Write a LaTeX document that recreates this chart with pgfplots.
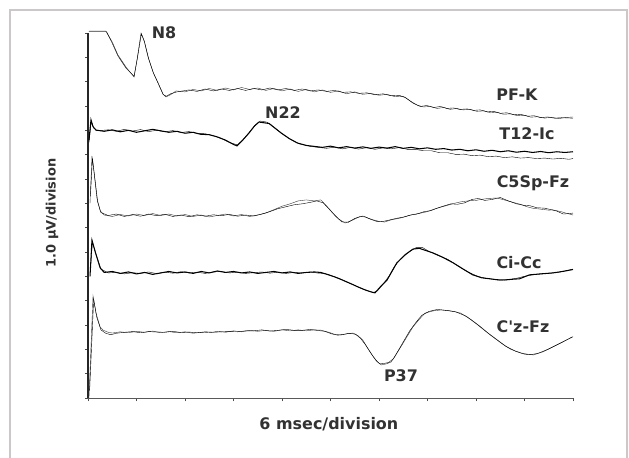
\documentclass[border=0pt]{standalone}
\usepackage{pgfplots}
\pgfplotsset{compat=1.18}
\usepackage{fontspec}
\setmainfont{DejaVu Sans}
\definecolor{trace}{RGB}{55,55,55}
\definecolor{txt}{RGB}{50,50,50}
\definecolor{frame}{RGB}{205,200,200}
\begin{document}
\begin{tikzpicture}
\begin{axis}[
    at={(0,0)}, anchor=south west,
    scale only axis, width=485bp, height=365bp,
    xmin=0, xmax=60, ymin=0, ymax=15,
    axis lines*=left,
    xtick={0,6,...,60}, ytick={0,1,...,15},
    xticklabels={}, yticklabels={},
    tick align=outside, major tick length=3bp,
    tick style={black!70, line width=0.6pt},
    x axis line style={black!65, line width=0.9pt},
    y axis line style={black!85, line width=2.2pt},
    clip=false,
    cycle list={{trace, solid, line width=1.05pt, mark=none}},
]
% PF-K
\addplot coordinates {(0.1,15.08) (2.2,15.08) (3.0,14.63) (3.7,14.10) (4.7,13.60) (5.7,13.19) (6.06,13.89) (6.56,15.00) (6.93,14.71) (7.42,14.02) (8.04,13.40) (8.66,12.95) (9.28,12.49) (9.65,12.37) (10.14,12.45) (10.9,12.62) (12,12.58) (13,12.68) (14,12.62) (15,12.72) (16,12.64) (17,12.74) (18,12.66) (19,12.76) (20,12.68) (21,12.74) (22,12.64) (23,12.72) (24,12.62) (25,12.70) (26,12.60) (27,12.68) (28,12.58) (29,12.66) (30,12.56) (31,12.62) (32,12.50) (33,12.58) (34,12.48) (35,12.52) (36,12.44) (37,12.48) (38,12.38) (39,12.40) (39.8,12.22) (40.7,12.04) (41.5,11.96) (42.3,11.98) (43.2,11.90) (44,11.94) (44.8,11.86) (45.6,11.90) (46.4,11.84) (47.3,11.86) (48.1,11.78) (49,11.80) (49.8,11.72) (50.6,11.74) (51.4,11.66) (52.3,11.68) (53.1,11.60) (54,11.62) (54.8,11.54) (55.6,11.56) (56.5,11.50) (57.3,11.54) (58.2,11.48) (59,11.52) (60,11.55)};
\addplot coordinates {(0.1,15.05) (2.3,15.05) (3.0,14.58) (3.7,14.06) (4.7,13.56) (5.7,13.22) (6.1,13.95) (6.6,14.96) (7.0,14.62) (7.5,13.95) (8.1,13.35) (8.7,12.92) (9.3,12.47) (9.7,12.40) (10.2,12.50) (11.0,12.58) (12.5,12.66) (13.5,12.60) (14.5,12.70) (15.5,12.62) (16.5,12.70) (17.5,12.64) (18.5,12.72) (19.5,12.64) (20.5,12.72) (21.5,12.66) (22.5,12.74) (23.5,12.66) (24.5,12.72) (25.5,12.64) (26.5,12.70) (27.5,12.62) (28.5,12.66) (29.5,12.60) (30.5,12.64) (31.5,12.56) (32.5,12.58) (33.5,12.52) (34.5,12.54) (35.5,12.46) (36.5,12.50) (37.5,12.42) (38.5,12.44) (39.3,12.34) (40.2,12.12) (41.1,11.98) (41.9,12.02) (42.8,11.94) (43.6,11.98) (44.4,11.90) (45.2,11.92) (46.0,11.86) (46.9,11.88) (47.7,11.82) (48.5,11.84) (49.4,11.76) (50.2,11.78) (51.0,11.70) (51.8,11.72) (52.7,11.64) (53.5,11.66) (54.4,11.58) (55.2,11.60) (56.0,11.52) (56.9,11.55) (57.7,11.50) (58.6,11.52) (60,11.50)};
% T12-Ic
\addplot coordinates {(0.12,10.6) (0.37,11.43) (0.62,11.15) (0.99,11.01) (2,10.96) (3,11.02) (4,10.94) (5,11.00) (6,10.92) (7,10.98) (8,11.04) (9,10.98) (10,10.92) (11,10.96) (12,10.88) (13,10.92) (13.9,10.84) (15,10.82) (16,10.73) (17,10.60) (18,10.42) (18.43,10.36) (19.2,10.62) (19.92,10.89) (20.6,11.18) (21.15,11.34) (22.0,11.30) (22.4,11.28) (23.1,11.10) (23.9,10.89) (24.9,10.66) (25.9,10.48) (27,10.38) (28,10.34) (29,10.30) (30,10.35) (31,10.28) (32,10.33) (33,10.27) (34,10.32) (35,10.26) (36,10.31) (37,10.27) (38,10.33) (39,10.26) (40,10.30) (41,10.24) (42,10.28) (43,10.22) (44,10.25) (45,10.19) (46,10.22) (47,10.16) (48,10.20) (49,10.14) (50,10.18) (51,10.12) (52,10.16) (53,10.10) (54,10.14) (55,10.09) (56,10.13) (57,10.08) (58,10.12) (59,10.09) (60,10.12)};
\addplot coordinates {(0.12,10.5) (0.4,11.38) (0.7,11.10) (1.1,10.98) (2.5,11.02) (3.5,10.96) (4.5,11.04) (5.5,10.97) (6.5,11.03) (7.5,10.95) (8.5,11.00) (9.5,10.94) (10.5,10.99) (11.5,10.91) (12.5,10.95) (13.5,10.87) (14.5,10.86) (15.5,10.78) (16.5,10.66) (17.5,10.50) (18.5,10.40) (19.3,10.66) (20.0,10.94) (20.7,11.22) (21.3,11.38) (22.1,11.34) (22.6,11.24) (23.3,11.04) (24.1,10.84) (25.1,10.62) (26.1,10.45) (27.5,10.34) (28.5,10.30) (29.5,10.26) (30.5,10.31) (31.5,10.24) (32.5,10.30) (33.5,10.23) (34.5,10.29) (35.5,10.22) (36.5,10.28) (37.5,10.24) (38.5,10.29) (39.5,10.22) (40.5,10.22) (41.5,10.16) (42.5,10.16) (43.5,10.08) (44.5,10.08) (45.5,10.01) (46.5,10.02) (47.5,9.96) (48.5,9.98) (49.5,9.92) (50.5,9.94) (51.5,9.88) (52.5,9.91) (53.5,9.86) (54.5,9.88) (55.5,9.84) (56.5,9.86) (57.5,9.82) (58.5,9.85) (59.5,9.81) (60,9.84)};
% C5Sp-Fz
\addplot coordinates {(0.25,8.0) (0.49,9.95) (0.74,9.30) (1.11,8.20) (1.5,7.70) (2.0,7.52) (3,7.46) (4,7.54) (5,7.48) (6,7.56) (7,7.50) (8,7.58) (9,7.50) (10,7.56) (11,7.48) (12,7.54) (13,7.46) (14,7.52) (15,7.44) (16,7.50) (17,7.56) (18,7.48) (19,7.54) (20,7.46) (21,7.52) (22,7.60) (23,7.74) (24,7.88) (25,7.98) (26,8.10) (27,8.14) (28,8.10) (28.8,8.14) (29.6,7.86) (30.3,7.60) (31.0,7.36) (31.8,7.19) (32.8,7.32) (33.4,7.42) (34.0,7.48) (34.6,7.40) (35.3,7.32) (36,7.26) (36.7,7.23) (37.5,7.32) (38.7,7.40) (39.5,7.48) (40.2,7.54) (41.2,7.60) (42,7.66) (42.8,7.76) (43.7,7.85) (44.5,7.92) (45.3,8.00) (46.1,8.06) (47,8.10) (48,8.12) (48.6,8.16) (49.5,8.20) (50.6,8.22) (51.5,8.14) (52.6,8.04) (53.5,7.96) (54.3,7.86) (55,7.80) (56,7.76) (57,7.72) (57.5,7.73) (58.5,7.66) (59.1,7.60) (60,7.52)};
\addplot coordinates {(0.3,8.3) (0.55,9.85) (0.8,9.15) (1.2,8.05) (1.6,7.62) (2.5,7.50) (3.5,7.56) (4.5,7.46) (5.5,7.54) (6.5,7.47) (7.5,7.56) (8.5,7.49) (9.5,7.55) (10.5,7.46) (11.5,7.52) (12.5,7.45) (13.5,7.53) (14.5,7.47) (15.5,7.53) (16.5,7.49) (17.5,7.55) (18.5,7.47) (19.5,7.52) (20.5,7.48) (21.5,7.56) (22.5,7.66) (23.5,7.78) (24.5,7.86) (25.5,7.94) (26.5,7.98) (27.5,8.04) (28.3,8.10) (29.1,8.02) (29.9,7.74) (30.6,7.48) (31.4,7.24) (32.2,7.22) (33.0,7.38) (33.7,7.46) (34.3,7.44) (35.0,7.34) (35.7,7.26) (36.4,7.25) (37.1,7.30) (38.1,7.38) (39.1,7.44) (39.9,7.52) (40.7,7.56) (41.6,7.66) (42.4,7.70) (43.2,7.80) (44.1,7.90) (44.9,7.98) (45.7,7.96) (46.6,8.02) (47.5,8.16) (48.3,8.20) (49.1,8.12) (50.0,8.16) (51.0,8.24) (52.0,8.10) (53.0,7.98) (53.9,7.92) (54.7,7.90) (55.5,7.82) (56.5,7.80) (57.3,7.74) (58,7.68) (58.8,7.56) (59.5,7.58) (60,7.60)};
% Ci-Cc
\addplot coordinates {(0.25,5.0) (0.49,6.49) (0.9,6.00) (1.5,5.35) (2.0,5.16) (3,5.20) (4,5.12) (5,5.18) (6,5.10) (7,5.16) (8,5.08) (9,5.14) (10,5.20) (11,5.14) (12,5.18) (13,5.12) (14,5.20) (15,5.14) (16,5.22) (17,5.16) (18,5.20) (19,5.14) (20,5.18) (21,5.12) (22,5.16) (23,5.20) (24,5.14) (25,5.18) (26,5.12) (27,5.16) (28,5.18) (28.8,5.16) (29.6,5.08) (30.5,4.98) (31.4,4.86) (32.3,4.73) (33.3,4.58) (34.3,4.44) (35.0,4.36) (35.5,4.32) (36.2,4.58) (37.0,4.85) (37.6,5.20) (38.2,5.55) (39.2,5.88) (40.2,6.12) (41.0,6.15) (41.8,6.06) (42.7,5.96) (43.9,5.78) (45.2,5.55) (46.4,5.30) (47.6,5.06) (48.7,4.94) (49.7,4.90) (50.6,4.86) (51.5,4.85) (52.5,4.88) (53.4,4.90) (54.6,5.06) (56,5.10) (57.5,5.14) (58.7,5.20) (60,5.28)};
\addplot coordinates {(0.3,5.3) (0.55,6.40) (1.0,5.90) (1.6,5.30) (2.5,5.14) (3.5,5.16) (4.5,5.10) (5.5,5.15) (6.5,5.12) (7.5,5.18) (8.5,5.11) (9.5,5.17) (10.5,5.13) (11.5,5.19) (12.5,5.14) (13.5,5.17) (14.5,5.12) (15.5,5.18) (16.5,5.20) (17.5,5.14) (18.5,5.17) (19.5,5.12) (20.5,5.15) (21.5,5.18) (22.5,5.13) (23.5,5.17) (24.5,5.12) (25.5,5.16) (26.5,5.14) (27.5,5.18) (28.5,5.13) (29.2,5.12) (30.0,5.04) (31.0,4.92) (31.9,4.78) (32.8,4.66) (33.8,4.50) (34.7,4.40) (35.3,4.34) (35.8,4.40) (36.6,4.72) (37.3,5.04) (37.9,5.40) (38.7,5.72) (39.7,6.00) (40.6,6.18) (41.4,6.18) (42.2,6.02) (43.3,5.86) (44.5,5.70) (45.8,5.42) (47.0,5.18) (48.2,5.00) (49.2,4.92) (50.1,4.88) (51.0,4.84) (52.0,4.86) (53.0,4.92) (54.0,5.00) (55.3,5.08) (56.8,5.12) (58.1,5.16) (59.3,5.24) (60,5.30)};
% C'z-Fz
\addplot coordinates {(0.12,0) (0.62,4.20) (0.99,3.49) (1.5,2.92) (1.86,2.79) (2.5,2.70) (3,2.67) (4,2.72) (5,2.68) (6,2.74) (7,2.70) (8,2.75) (9,2.69) (10,2.73) (11,2.68) (12,2.72) (13,2.66) (14,2.70) (15,2.68) (16,2.74) (17,2.70) (18,2.76) (19,2.72) (20,2.78) (21,2.74) (22,2.78) (23,2.74) (24,2.80) (25,2.76) (26,2.80) (27,2.76) (28,2.80) (28.8,2.79) (29.8,2.70) (30.5,2.62) (31.3,2.59) (32.0,2.64) (32.8,2.67) (33.4,2.56) (34.0,2.38) (34.6,2.05) (35.3,1.69) (35.8,1.48) (36.3,1.36) (36.9,1.40) (37.5,1.48) (38.1,1.78) (38.7,2.10) (39.5,2.54) (40.2,2.92) (41.0,3.24) (41.7,3.49) (42.7,3.58) (43.7,3.62) (44.9,3.58) (46.1,3.49) (47.4,3.22) (48.6,2.92) (49.8,2.58) (51.1,2.26) (52.3,2.00) (53.6,1.85) (54.4,1.80) (55.1,1.77) (56.3,1.90) (57.5,2.10) (58.7,2.30) (59.9,2.51)};
\addplot coordinates {(0.2,0.3) (0.7,4.05) (1.1,3.30) (1.6,2.80) (2.2,2.66) (2.8,2.60) (3.5,2.66) (4.5,2.70) (5.5,2.73) (6.5,2.68) (7.5,2.73) (8.5,2.71) (9.5,2.70) (10.5,2.74) (11.5,2.69) (12.5,2.71) (13.5,2.68) (14.5,2.72) (15.5,2.70) (16.5,2.72) (17.5,2.73) (18.5,2.72) (19.5,2.76) (20.5,2.76) (21.5,2.80) (22.5,2.75) (23.5,2.78) (24.5,2.82) (25.5,2.78) (26.5,2.78) (27.5,2.82) (28.3,2.78) (29.3,2.74) (30.1,2.64) (30.9,2.58) (31.7,2.62) (32.4,2.66) (33.1,2.62) (33.7,2.46) (34.3,2.20) (35.0,1.84) (35.6,1.56) (36.1,1.40) (36.6,1.42) (37.2,1.46) (37.8,1.62) (38.4,1.96) (39.1,2.36) (39.8,2.76) (40.6,3.12) (41.3,3.40) (42.2,3.56) (43.2,3.64) (44.3,3.60) (45.5,3.54) (46.8,3.36) (48.0,3.06) (49.2,2.74) (50.5,2.42) (51.7,2.12) (52.9,1.92) (54.0,1.80) (54.8,1.78) (55.7,1.84) (56.9,2.00) (58.1,2.20) (59.3,2.40) (60,2.52)};
% labels
\begin{scope}[every node/.style={text=txt, font=\fontsize{16}{18}\selectfont\bfseries, inner sep=0pt}]
\node at (axis cs:9.40,15.0) {N8};
\node at (axis cs:53.07,12.45) {PF-K};
\node at (axis cs:24.12,11.71) {N22};
\node at (axis cs:54.31,10.85) {T12-Ic};
\node at (axis cs:55.05,8.84) {C5Sp-Fz};
\node at (axis cs:53.32,5.55) {Ci-Cc};
\node at (axis cs:53.81,2.92) {C\textquotesingle z-Fz};
\node at (axis cs:38.72,0.90) {P37};
\node at (axis cs:29.8,-1.07) {6 msec/division};
\node[rotate=90, font=\fontsize{13}{15}\selectfont\bfseries] at (axis cs:-4.45,7.6) {1.0 µV/division};
\end{scope}
\end{axis}
\draw[frame, line width=2bp] (-78bp,-80bp) -- (-78bp,388bp) -- (539bp,388bp) -- (539bp,-80bp);
\pgfresetboundingbox
\path[use as bounding box] (-88bp,-60bp) rectangle (541bp,398bp);
\end{tikzpicture}
\end{document}
